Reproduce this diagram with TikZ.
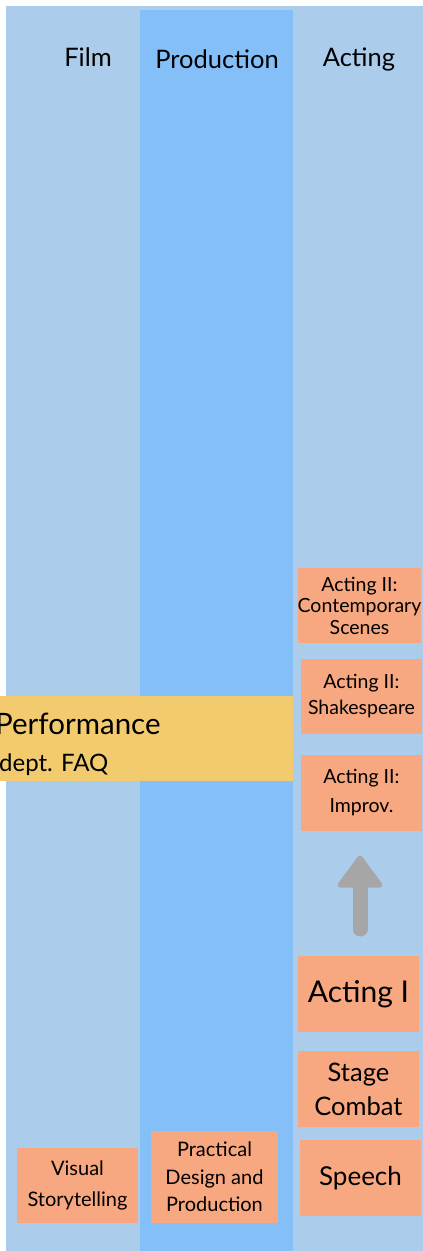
\documentclass[tikz,border=0pt]{standalone}
\usepackage{fontspec}
\setmainfont{Lato}
\definecolor{colA}{HTML}{ABCDEB}
\definecolor{colB}{HTML}{84BFF7}
\definecolor{boxc}{HTML}{F7A880}
\definecolor{yel}{HTML}{F2CB6E}
\definecolor{arr}{HTML}{A6A6A6}
\tikzset{
  course/.style={fill=boxc, inner sep=0pt, align=center, text=black},
  hdr/.style={inner sep=0pt, font=\fontsize{25.5}{28}\selectfont},
}
\begin{document}
\begin{tikzpicture}[x=1pt,y=-1pt]
\useasboundingbox (0,0) rectangle (423,1251);
\fill[colA] (6,6) rectangle (423,1251);
\fill[colB] (140,10) rectangle (293,1251);
\node[hdr] (film) at (88,57) {Film};
\node[hdr] (prod) at (217,59) {Production};
\node[hdr] (act) at (359,59) {Acting};
% yellow banner
\fill[yel] (0,696) rectangle (293,781);
\node[anchor=base west, inner sep=0pt, font=\fontsize{29.5}{32}\selectfont] (perf) at (-5,734) {Performance};
\node[anchor=base west, inner sep=0pt, font=\fontsize{24}{28}\selectfont] (faq) at (-1,771) {dept. FAQ};
% acting column
\node[course, minimum width=121, minimum height=75, font=\fontsize{19.5}{21.5}\selectfont] (cont) at (359.5,605.5) {Acting II:\\Contemporary\\Scenes};
\node[course, minimum width=121, minimum height=75, font=\fontsize{19.5}{26}\selectfont] (shak) at (361.5,696.5) {Acting II:\\Shakespeare};
\node[course, minimum width=121, minimum height=76, font=\fontsize{19.5}{29}\selectfont] (impr) at (361.5,793) {Acting II:\\Improv.};
\node[course, minimum width=121, minimum height=76, font=\fontsize{30}{32}\selectfont] (act1) at (358.5,994) {Acting I};
\node[course, minimum width=121, minimum height=76, font=\fontsize{25.5}{34}\selectfont] (comb) at (358.5,1089) {Stage\\Combat};
\node[course, minimum width=121, minimum height=76, font=\fontsize{26}{28}\selectfont] (spee) at (360.5,1178) {Speech};
% bottom row
\node[course, minimum width=121, minimum height=75, font=\fontsize{20}{31}\selectfont] (vis) at (77.5,1185.5) {Visual\\Storytelling};
\node[course, minimum width=127, minimum height=92, font=\fontsize{20}{27.5}\selectfont] (prac) at (214.5,1177) {Practical\\Design and\\Production};
% arrow
\coordinate (abot) at (360,929);
\coordinate (abase) at (360,884);
\draw[arr, line width=15, line cap=round] (abot) -- (abase);
\fill[arr, draw=arr, line width=5, line join=round] (340,885) -- (380,885) -- (360,858) -- cycle;
\end{tikzpicture}
\end{document}
